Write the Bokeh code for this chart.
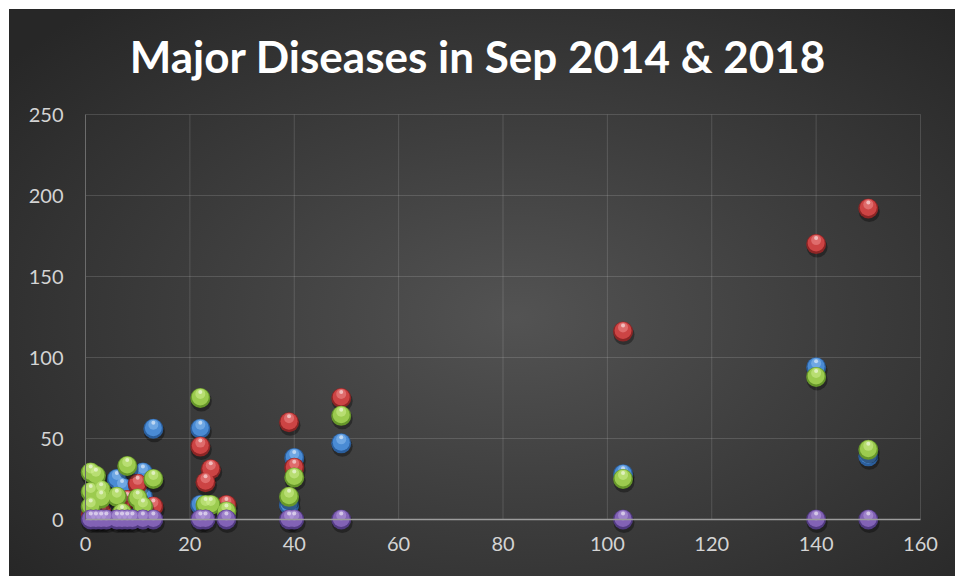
from bokeh.plotting import figure
from bokeh.models import Range1d, FixedTicker, ColumnDataSource
from bokeh.transform import dodge
from bokeh.embed import file_html
from bokeh.resources import INLINE

title_text = "Major Diseases in Sep 2014 & 2018"

x_ticks = [0, 20, 40, 60, 80, 100, 120, 140, 160]
y_ticks = [0, 50, 100, 150, 200, 250]

blue_x = [1, 3, 6, 7, 9, 11, 11, 13, 22, 22, 39, 40, 49, 103, 140, 150]
blue_y = [4, 6, 25, 20, 10, 29, 14, 56, 56, 9, 9, 38, 47, 28, 94, 39]

red_x = [1, 3, 8, 10, 12, 13, 22, 23, 24, 27, 39, 40, 49, 103, 140, 150]
red_y = [3, 5, 12, 22, 6, 8, 45, 23, 31, 9, 60, 32, 75, 116, 170, 192]

green_x = [1, 1, 1, 2, 3, 3, 6, 7, 8, 10, 11, 13, 22, 23, 24, 27, 39, 40, 49, 103, 140, 150]
green_y = [29, 17, 8, 27, 18, 13, 14, 4, 33, 13, 8, 25, 75, 9, 9, 5, 14, 26, 64, 25, 88, 43]

purple_x = [1, 2, 3, 4, 6, 7, 8, 9, 11, 13, 22, 23, 27, 39, 40, 49, 103, 140, 150]
purple_y = [0, 0, 0, 0, 0, 0, 0, 0, 0, 0, 0, 0, 0, 0, 0, 0, 0, 0, 0]

W, H = 955, 576
TOP = 100
# frame geometry (pixels) -> data ranges
PX_X = 835 / 160.0
PX_Y = 405 / 250.0
X0_PX = 85.0   # x=0 from frame left
Y0_PX = 419.0  # y=0 from frame top
frame_h = H - TOP

x_start = -X0_PX / PX_X
x_end = (W - X0_PX) / PX_X
y_end = Y0_PX / PX_Y
y_start = -(frame_h - Y0_PX) / PX_Y

p = figure(width=W, height=H, output_backend="svg", toolbar_location=None,
           x_range=Range1d(x_start, x_end), y_range=Range1d(y_start, y_end),
           min_border_left=0, min_border_right=0, min_border_bottom=0,
           min_border_top=TOP)
p.styles = {"background":
            "linear-gradient(#ffffff, #ffffff) left top / 100% 9px no-repeat, "
            "linear-gradient(#ffffff, #ffffff) left top / 9px 100% no-repeat, "
            "radial-gradient(ellipse farthest-corner at 54% 55%, #535353 0%, #3f3f3f 40%, #272727 90%)"}
p.border_fill_color = None
p.background_fill_color = None
p.outline_line_color = None
p.xgrid.visible = False
p.ygrid.visible = False

p.title.text = title_text
p.title.text_font = "Lato"
p.title.text_font_style = "bold"
p.title.text_font_size = "44px"
p.title.text_color = "#ffffff"
p.title.align = "center"
p.title.standoff = 38
p.title.offset = 10

# gridlines limited to the data area
grid_color = "#ffffff"
p.segment(x0=[x_ticks[0]] * (len(y_ticks) - 1), x1=[x_ticks[-1]] * (len(y_ticks) - 1),
          y0=y_ticks[1:], y1=y_ticks[1:], line_color=grid_color, line_alpha=0.14, line_width=1)
p.segment(x0=x_ticks[1:], x1=x_ticks[1:], y0=[y_ticks[0]] * (len(x_ticks) - 1),
          y1=[y_ticks[-1]] * (len(x_ticks) - 1), line_color=grid_color, line_alpha=0.14, line_width=1)

for ax, ticks, bnd in ((p.xaxis, x_ticks, (0, 160)), (p.yaxis, y_ticks, (0, 250))):
    ax.ticker = FixedTicker(ticks=ticks)
    ax.fixed_location = 0
    ax.bounds = bnd
    ax.major_tick_in = 0
    ax.major_tick_out = 0
    ax.minor_tick_in = 0
    ax.minor_tick_out = 0
    ax.major_label_text_font = "Lato"
    ax.major_label_text_font_size = "20px"
    ax.major_label_text_color = "#d4d4d4"
p.xaxis.axis_line_color = "#9c9c9c"
p.xaxis.axis_line_width = 1.5
p.xaxis.major_label_standoff = 17
p.yaxis.axis_line_color = "#6c6c6c"
p.yaxis.axis_line_width = 1
p.yaxis.major_label_standoff = 22


def ox(px):
    return px / PX_X


def oy(px):
    return -px / PX_Y


series = [
    (blue_x, blue_y, "#2b5e9c", "#4a8bd4", "#93c3f2"),
    (red_x, red_y, "#8c2525", "#cc4444", "#f29494"),
    (green_x, green_y, "#66962a", "#9ccb4f", "#d4f295"),
    (purple_x, purple_y, "#513a82", "#8262b5", "#bba4e2"),
]

for xs, ys, edge, body, hi in series:
    src = ColumnDataSource(dict(x=xs, y=ys))
    p.scatter(x=dodge("x", ox(1), range=p.x_range), y=dodge("y", oy(3), range=p.y_range),
              source=src, size=21, fill_color="#000000", fill_alpha=0.35, line_color=None)
    p.scatter(x="x", y="y", source=src, size=20, fill_color=edge, line_color=None)
    p.scatter(x="x", y=dodge("y", oy(-1), range=p.y_range), source=src, size=17,
              fill_color=body, line_color=None)
    p.scatter(x="x", y=dodge("y", oy(-4), range=p.y_range), source=src, size=10,
              fill_color=hi, fill_alpha=0.5, line_color=None)
    p.scatter(x="x", y=dodge("y", oy(-6), range=p.y_range), source=src, size=4,
              fill_color="#ffffff", fill_alpha=0.55, line_color=None)

open("out.html", "w").write(file_html(p, INLINE))
